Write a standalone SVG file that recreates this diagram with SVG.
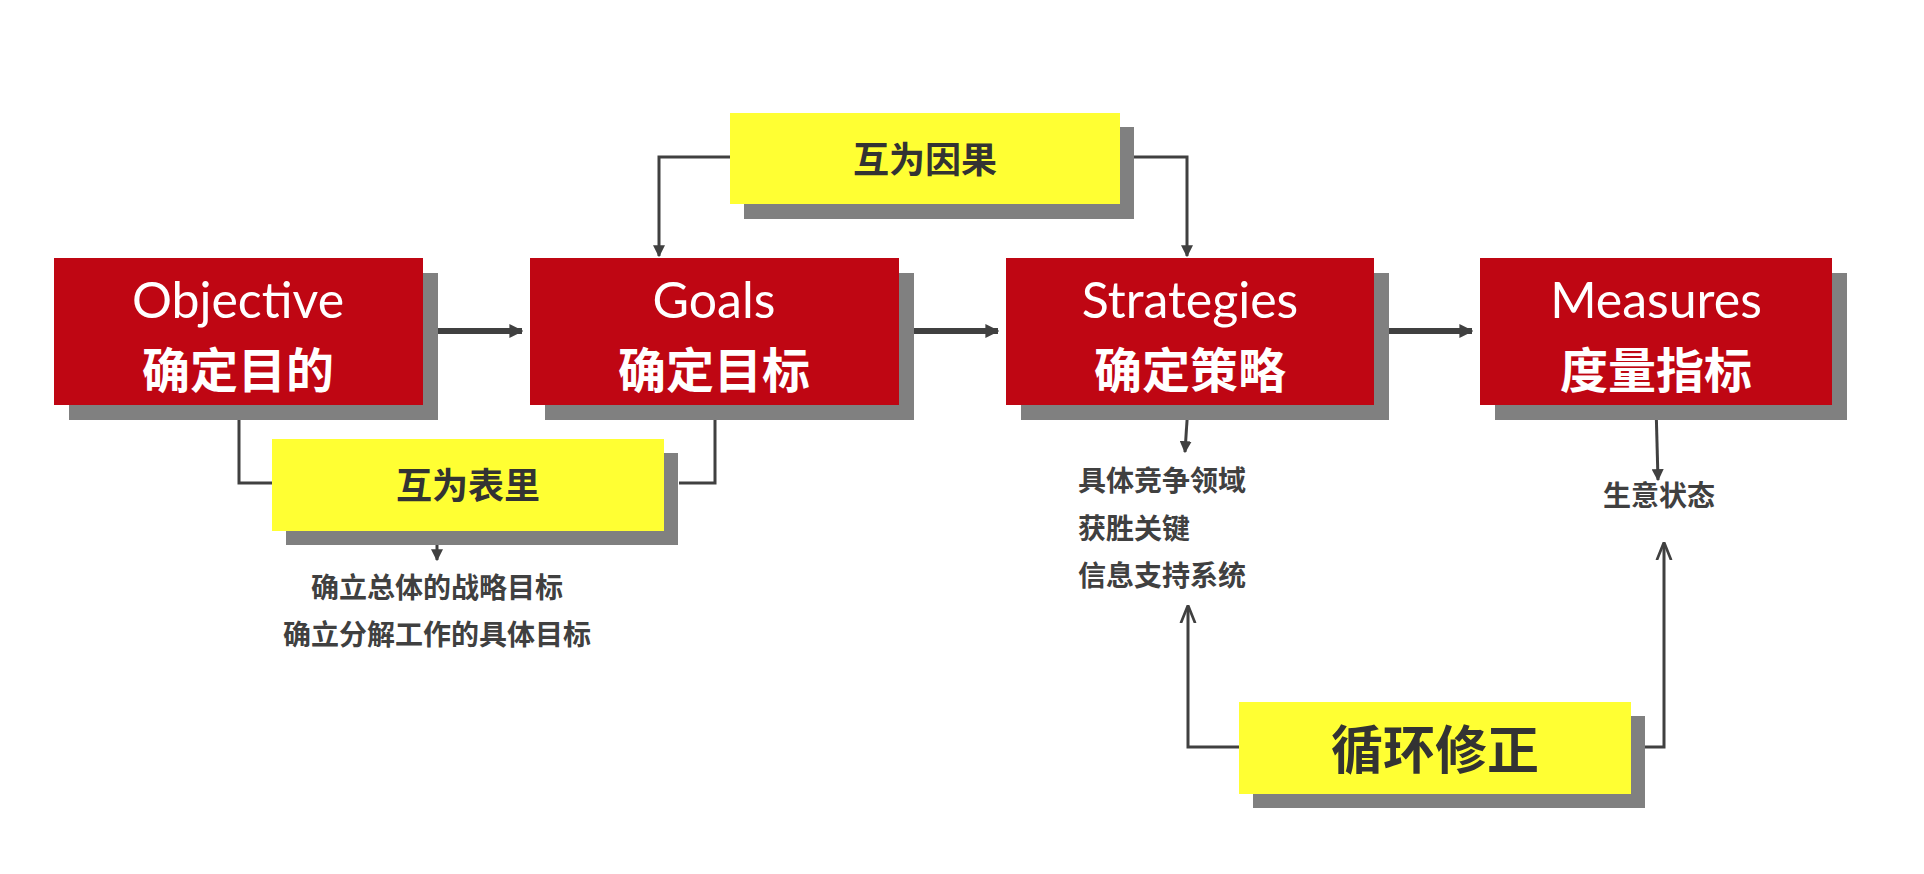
<svg xmlns="http://www.w3.org/2000/svg" width="1924" height="874" viewBox="0 0 1924 874">
<defs>
<style>
.sh{fill:#808080}
.red{fill:#bf0613}
.yel{fill:#ffff33}
.en{font-family:"Lato","Open Sans",sans-serif;fill:#fff;font-size:50px;text-anchor:middle}
.zh{font-family:"Noto Sans CJK SC",sans-serif;font-weight:bold;fill:#fff;font-size:48px;text-anchor:middle}
.yt{font-family:"Noto Sans CJK SC",sans-serif;font-weight:bold;fill:#333;text-anchor:middle}
.lt{font-family:"Noto Sans CJK SC",sans-serif;font-weight:bold;fill:#404040;font-size:28px}
.ln{fill:none;stroke:#404040;stroke-width:3}
.th{fill:none;stroke:#404040;stroke-width:6}
</style>
<marker id="ah" viewBox="0 0 10 10" refX="9" refY="5" markerWidth="6" markerHeight="6" orient="auto" markerUnits="userSpaceOnUse"><path d="M0,0L10,5L0,10z" fill="#404040"/></marker>
<marker id="ahb" viewBox="0 0 10 10" refX="9" refY="5" markerWidth="14" markerHeight="14" orient="auto" markerUnits="userSpaceOnUse"><path d="M0,0L10,5L0,10z" fill="#404040"/></marker>
<marker id="ahs" viewBox="0 0 10 10" refX="9" refY="5" markerWidth="12" markerHeight="12" orient="auto" markerUnits="userSpaceOnUse"><path d="M0,0L10,5L0,10z" fill="#404040"/></marker>
<marker id="ao" viewBox="0 0 10 10" refX="9" refY="5" markerWidth="18" markerHeight="18" orient="auto" markerUnits="userSpaceOnUse"><path d="M0,1L10,5L0,9" fill="none" stroke="#404040" stroke-width="1.5"/></marker>
</defs>
<rect width="1924" height="874" fill="#fff"/>
<g id="connectors">
<path class="th" d="M423,331H522" marker-end="url(#ahb)"/>
<path class="th" d="M899,331H998" marker-end="url(#ahb)"/>
<path class="th" d="M1374,331H1472" marker-end="url(#ahb)"/>
<path class="ln" d="M730,157H659V256" marker-end="url(#ahs)"/>
<path class="ln" d="M1120,157H1187V256" marker-end="url(#ahs)"/>
<path class="ln" d="M239,405V483H272"/>
<path class="ln" d="M679,483H715V405"/>
<path class="ln" d="M437,531V560" marker-end="url(#ahs)"/>
<path class="ln" d="M1188,405L1185,452" marker-end="url(#ahs)"/>
<path class="ln" d="M1656,405L1658,480" marker-end="url(#ahs)"/>
<path class="ln" d="M1239,747H1188V607" marker-end="url(#ao)"/>
<path class="ln" d="M1645,747H1664V544" marker-end="url(#ao)"/>
</g>
<g id="objective"><rect class="sh" x="69" y="273" width="369" height="147"/><rect class="red" x="54" y="258" width="369" height="147"/><text class="en" x="238" y="318">Objective</text><text class="zh" x="238" y="388">确定目的</text></g>
<g id="goals"><rect class="sh" x="545" y="273" width="369" height="147"/><rect class="red" x="530" y="258" width="369" height="147"/><text class="en" x="714" y="318">Goals</text><text class="zh" x="714" y="388">确定目标</text></g>
<g id="strategies"><rect class="sh" x="1021" y="273" width="368" height="147"/><rect class="red" x="1006" y="258" width="368" height="147"/><text class="en" x="1190" y="318">Strategies</text><text class="zh" x="1190" y="388">确定策略</text></g>
<g id="measures"><rect class="sh" x="1495" y="273" width="352" height="147"/><rect class="red" x="1480" y="258" width="352" height="147"/><text class="en" x="1656" y="318">Measures</text><text class="zh" x="1656" y="388">度量指标</text></g>
<g id="huweiyinguo"><rect class="sh" x="744" y="127" width="390" height="92"/><rect class="yel" x="730" y="113" width="390" height="91"/><text class="yt" x="925" y="173" font-size="36">互为因果</text></g>
<g id="huweibiaoli"><rect class="sh" x="286" y="453" width="392" height="92"/><rect class="yel" x="272" y="439" width="392" height="92"/><text class="yt" x="468" y="499" font-size="36">互为表里</text></g>
<g id="xunhuanxiuzheng"><rect class="sh" x="1253" y="716" width="392" height="92"/><rect class="yel" x="1239" y="702" width="392" height="92"/><text class="yt" x="1435" y="769" font-size="52">循环修正</text></g>
<g id="goals-text"><text class="lt" x="437" y="598" text-anchor="middle">确立总体的战略目标</text><text class="lt" x="437" y="645" text-anchor="middle">确立分解工作的具体目标</text></g>
<g id="strategies-text"><text class="lt" x="1078" y="491">具体竞争领域</text><text class="lt" x="1078" y="539">获胜关键</text><text class="lt" x="1078" y="586">信息支持系统</text></g>
<g id="measures-text"><text class="lt" x="1659" y="506" text-anchor="middle">生意状态</text></g>
</svg>
